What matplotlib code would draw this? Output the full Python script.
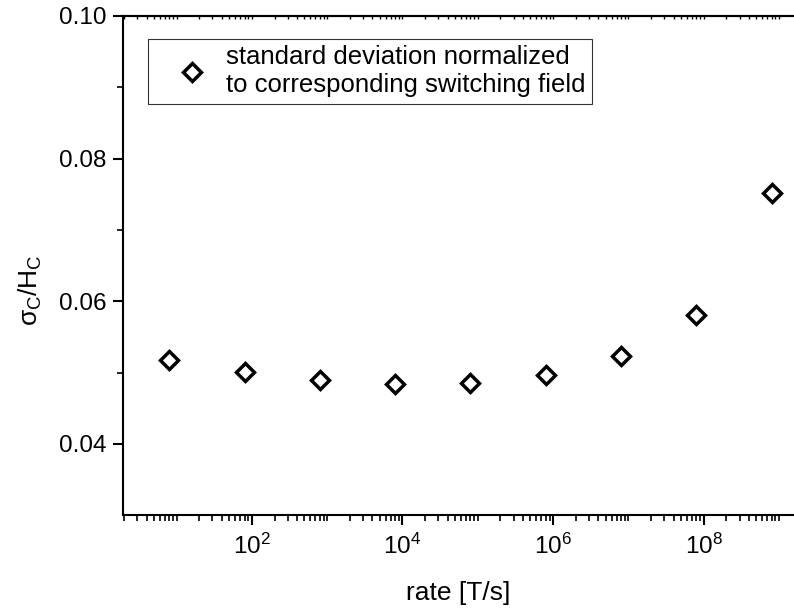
import matplotlib
matplotlib.use("Agg")
import matplotlib.pyplot as plt
import numpy as np
from matplotlib.ticker import LogLocator, NullFormatter

plt.rcParams['font.family'] = ['Liberation Sans', 'DejaVu Sans']
plt.rcParams['mathtext.fontset'] = 'custom'
plt.rcParams['mathtext.rm'] = 'Liberation Sans'
plt.rcParams['mathtext.it'] = 'Liberation Sans'

# rate [T/s] and normalized standard deviation
rate = [8, 8e1, 8e2, 8e3, 8e4, 8e5, 8e6, 8e7, 8e8]
sigma_norm = [0.0517, 0.0501, 0.0490, 0.0484, 0.0486, 0.0497, 0.0523, 0.0581, 0.0751]
legend_text = "standard deviation normalized\nto corresponding switching field"

fig = plt.figure(figsize=(7.94, 6.09), dpi=100)
ax = fig.add_axes([0.155, 0.154, 0.845, 0.82])

ax.plot(rate, sigma_norm, linestyle='none', marker='D', markersize=9,
        markerfacecolor='white', markeredgecolor='black', markeredgewidth=2.5,
        label=legend_text)

ax.set_xscale('log')
ax.set_xlim(10**0.29, 10**9.2)
ax.set_ylim(0.03, 0.10)

ax.xaxis.set_minor_locator(LogLocator(base=10, subs=np.arange(1, 10), numticks=30))
ax.xaxis.set_minor_formatter(NullFormatter())
ax.set_xticks([1e2, 1e4, 1e6, 1e8])
ax.set_xticklabels(['$10^2$', '$10^4$', '$10^6$', '$10^8$'])
ax.set_yticks([0.04, 0.06, 0.08, 0.10])
ax.set_yticklabels(['0.04', '0.06', '0.08', '0.10'])
ax.set_yticks([0.05, 0.07, 0.09], minor=True)

for s in ['left', 'bottom', 'top']:
    ax.spines[s].set_linewidth(1.5)
ax.spines['right'].set_visible(False)

ax.tick_params(axis='both', which='major', direction='out', length=7, width=1.5,
               labelsize=17.5)
ax.tick_params(axis='x', which='major', pad=6)
ax.tick_params(axis='y', which='major', pad=5)
ax.tick_params(axis='both', which='minor', direction='out', length=4, width=1.2)

# top axis: tiny ticks drawn inside, no labels
top = ax.secondary_xaxis('top')
top.set_xticks([1e2, 1e4, 1e6, 1e8])
top.xaxis.set_minor_locator(LogLocator(base=10, subs=np.arange(1, 10), numticks=30))
top.tick_params(which='both', direction='in', length=2, width=1, labeltop=False)
top.spines['top'].set_linewidth(1.5)

ax.set_xlabel('rate [T/s]', fontsize=19)
ax.xaxis.set_label_coords(0.5, -0.132)
ax.set_ylabel(r'$\sigma_C/H_C$', fontsize=19)
ax.yaxis.set_label_coords(-0.118, 0.45)

leg = ax.legend(loc='upper left', bbox_to_anchor=(148 / 794, 1 - 39 / 609),
                bbox_transform=fig.transFigure, borderaxespad=0, fontsize=18.5,
                frameon=True, fancybox=False, edgecolor='black',
                handletextpad=-0.1, borderpad=0.25, handlelength=2.9)
leg.get_frame().set_linewidth(0.8)

fig.savefig('out.png', dpi=100)
